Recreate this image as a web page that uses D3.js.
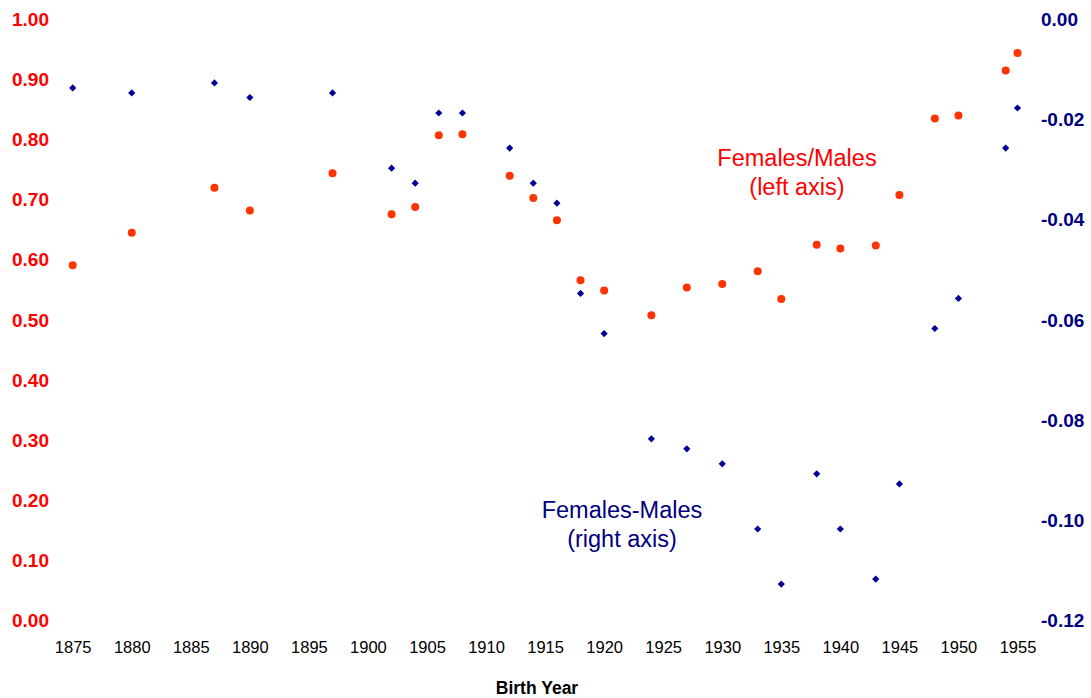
<!DOCTYPE html>
<html>
<head>
<meta charset="utf-8">
<script src="https://cdn.jsdelivr.net/npm/d3@7"></script>
<style>
  html, body { margin: 0; padding: 0; background: #fff; }
  svg { display: block; font-family: "Liberation Sans", Arial, Helvetica, sans-serif; }
</style>
</head>
<body>
<div id="chart"></div>
<script>
// Birth-year cohorts and the two series
const years = [1875, 1880, 1887, 1890, 1897, 1902, 1904, 1906, 1908, 1912, 1914, 1916, 1918, 1920,
  1924, 1927, 1930, 1933, 1935, 1938, 1940, 1943, 1945, 1948, 1950, 1954, 1955];

// Females/Males ratio (left axis)
const ratio = [0.591, 0.645, 0.720, 0.682, 0.744, 0.676, 0.688, 0.807, 0.809, 0.740, 0.703, 0.666, 0.566, 0.549,
  0.508, 0.554, 0.560, 0.581, 0.535, 0.625, 0.619, 0.624, 0.708, 0.835, 0.840, 0.915, 0.944];

// Females-Males difference (right axis)
const diff = [-0.0137, -0.0147, -0.0127, -0.0156, -0.0147, -0.0297, -0.0327, -0.0187, -0.0187, -0.0257, -0.0327, -0.0367, -0.0547, -0.0627,
  -0.0837, -0.0857, -0.0887, -0.1017, -0.1127, -0.0907, -0.1017, -0.1117, -0.0927, -0.0617, -0.0557, -0.0257, -0.0177];

const xTicks = [1875, 1880, 1885, 1890, 1895, 1900, 1905, 1910, 1915, 1920, 1925, 1930, 1935, 1940, 1945, 1950, 1955];
const leftTicks = [0, 0.1, 0.2, 0.3, 0.4, 0.5, 0.6, 0.7, 0.8, 0.9, 1.0];
const rightTicks = [0, -0.02, -0.04, -0.06, -0.08, -0.10, -0.12];

const width = 1091;
const height = 698;

const RED = '#ff0000';
const DOT_RED = '#ff3300';
const NAVY = '#000080';
const DIAMOND = '#000099';

const svg = d3.select('#chart')
  .append('svg')
  .attr('width', width)
  .attr('height', height);

const x = d3.scaleLinear().domain([1875, 1955]).range([72.7, 1017.5]);
const yLeft = d3.scaleLinear().domain([0, 1]).range([620.7, 19.3]);
const yRight = d3.scaleLinear().domain([-0.12, 0]).range([620.7, 19.3]);

// Left axis (ratio)
const gLeft = svg.append('g')
  .attr('transform', 'translate(49,0)')
  .call(d3.axisLeft(yLeft).tickValues(leftTicks).tickSize(0).tickPadding(0).tickFormat(d3.format('.2f')));
gLeft.select('.domain').remove();
gLeft.selectAll('text')
  .attr('fill', RED)
  .attr('font-size', '19px')
  .attr('font-weight', 'bold')
  .attr('font-family', '"Liberation Sans", Arial, sans-serif');

// Right axis (difference)
const gRight = svg.append('g')
  .attr('transform', 'translate(1041,0)')
  .call(d3.axisRight(yRight).tickValues(rightTicks).tickSize(0).tickPadding(0).tickFormat(d3.format('.2f')));
gRight.select('.domain').remove();
gRight.selectAll('text')
  .attr('fill', NAVY)
  .attr('font-size', '19px')
  .attr('font-weight', 'bold')
  .attr('font-family', '"Liberation Sans", Arial, sans-serif')
  .text(d => d3.format('.2f')(d).replace('−', '-'));

// Bottom axis (birth year), no line, labels only
const gBottom = svg.append('g')
  .attr('transform', 'translate(0,620.7)')
  .call(d3.axisBottom(x).tickValues(xTicks).tickSize(0).tickPadding(0).tickFormat(d3.format('d')));
gBottom.select('.domain').remove();
gBottom.selectAll('text')
  .attr('dy', null)
  .attr('y', 32.3)
  .attr('fill', '#000')
  .attr('font-size', '16.5px')
  .attr('font-family', '"Liberation Sans", Arial, sans-serif');

svg.append('text')
  .attr('x', 537)
  .attr('y', 694)
  .attr('text-anchor', 'middle')
  .attr('font-size', '17.5px')
  .attr('font-weight', 'bold')
  .attr('fill', '#000')
  .text('Birth Year');

// Difference series: small navy diamonds
svg.append('g')
  .selectAll('path')
  .data(years.map((yr, i) => ({ yr, v: diff[i] })))
  .join('path')
  .attr('d', d3.symbol().type(d3.symbolSquare).size(26))
  .attr('transform', d => `translate(${x(d.yr)},${yRight(d.v)}) rotate(45)`)
  .attr('fill', DIAMOND);

// Ratio series: red dots
svg.append('g')
  .selectAll('circle')
  .data(years.map((yr, i) => ({ yr, v: ratio[i] })))
  .join('circle')
  .attr('cx', d => x(d.yr))
  .attr('cy', d => yLeft(d.v))
  .attr('r', 4)
  .attr('fill', DOT_RED);

// Series annotations
const notes = [
  { lines: ['Females/Males', '(left axis)'], x: 797, y: 166, color: RED },
  { lines: ['Females-Males', '(right axis)'], x: 622, y: 518.3, color: NAVY }
];
notes.forEach(n => {
  const t = svg.append('text')
    .attr('text-anchor', 'middle')
    .attr('font-size', '23.5px')
    .attr('fill', n.color);
  n.lines.forEach((line, i) => {
    t.append('tspan')
      .attr('x', n.x)
      .attr('y', n.y + i * 29)
      .text(line);
  });
});
</script>
</body>
</html>
